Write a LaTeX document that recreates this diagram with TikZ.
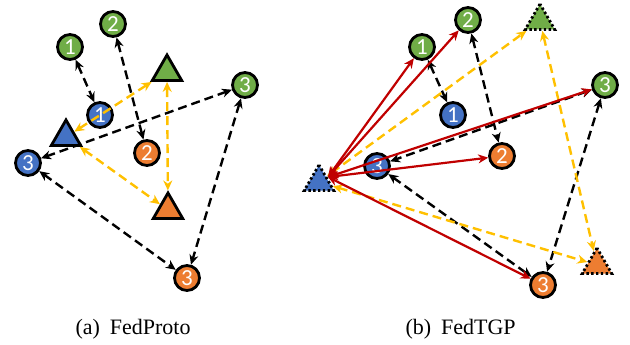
\documentclass[tikz,border=0pt]{standalone}
\usepackage{fontspec}
\setmainfont{Liberation Serif}
\newfontfamily\numfont{Carlito}
\usetikzlibrary{arrows.meta,shapes.geometric}
\definecolor{cgreen}{HTML}{70AD47}
\definecolor{cblue}{HTML}{4472C4}
\definecolor{corange}{HTML}{ED7D31}
\definecolor{cyellow}{HTML}{FFC000}
\definecolor{cred}{HTML}{C00000}
\begin{document}
\begin{tikzpicture}[x=1pt,y=-1pt,
  pnt/.style={circle,draw=black,line width=2.8pt,minimum size=25pt,inner sep=0pt,text=white,font=\numfont\fontsize{23}{23}\selectfont},
  gc/.style={pnt,fill=cgreen},
  bc/.style={pnt,fill=cblue},
  oc/.style={pnt,fill=corange},
  tribox/.style={regular polygon,regular polygon sides=3,draw=black,line width=2.8pt,minimum size=34pt,inner sep=0pt},
  dtribox/.style={tribox,dash pattern=on 2.4pt off 2.4pt},
  twotips/.style={{Stealth[length=10pt,width=9pt]}-{Stealth[length=10pt,width=9pt]}},
  blk/.style={twotips,draw=black,line width=2.4pt,dash pattern=on 9pt off 5pt},
  ylw/.style={twotips,draw=cyellow,line width=2.4pt,dash pattern=on 9pt off 5pt},
  rd/.style={twotips,draw=cred,line width=2.2pt},
  captxt/.style={anchor=base west,font=\fontsize{22}{24}\selectfont}
]
\useasboundingbox (0,0) rectangle (630,345);
% ---------- (a) FedProto ----------
\node[gc] (g1L) at (70,47) {1};
\node[gc] (g2L) at (113,24) {2};
\node[gc] (g3L) at (245,85) {3};
\node[bc] (b1L) at (100,115) {1};
\node[bc] (b3L) at (28,163) {3};
\node[oc] (o2L) at (147,153) {2};
\node[oc] (o3L) at (187,278) {3};
\node[tribox,fill=cgreen] (gtL) at (167,72) {};
\node[tribox,fill=cblue] (btL) at (66,137) {};
\node[tribox,fill=corange] (otL) at (168,210) {};
\draw[blk] (g1L) -- (b1L);
\draw[blk] (g2L) -- (o2L);
\draw[blk] (g3L) -- (b3L);
\draw[blk] (b3L) -- (o3L);
\draw[blk] (g3L) -- (o3L);
\draw[ylw] (btL) -- (gtL);
\draw[ylw] (gtL) -- (otL);
\draw[ylw] (btL) -- (otL);
% ---------- (b) FedTGP ----------
\node[gc] (g1R) at (422,47) {1};
\node[gc] (g2R) at (468,20) {2};
\node[gc] (g3R) at (605,85) {3};
\node[bc] (b1R) at (453,115) {1};
\node[bc] (b3R) at (377,166) {3};
\node[oc] (o2R) at (502,156) {2};
\node[oc] (o3R) at (543,285) {3};
\node[dtribox,fill=cgreen] (gtR) at (540,21) {};
\node[dtribox,fill=cblue] (btR) at (319,182) {};
\node[dtribox,fill=corange] (otR) at (597,265) {};
\coordinate (hub) at (328,177);
\draw[blk] (g1R) -- (b1R);
\draw[blk] (g2R) -- (o2R);
\draw[blk] (g3R) -- (b3R);
\draw[blk] (b3R) -- (o3R);
\draw[blk] (g3R) -- (o3R);
\draw[ylw] (btR) -- (gtR);
\draw[ylw] (gtR) -- (otR);
\draw[ylw] (btR) -- (otR);
\draw[rd] (hub) -- (g1R);
\draw[rd] (hub) -- (g2R);
\draw[rd] (hub) -- (g3R);
\draw[rd] (hub) -- (o2R);
\draw[rd] (hub) -- (o3R);
% ---------- captions ----------
\node[captxt] (capa) at (72,334) {(a)\hspace{0.45em}FedProto};
\node[captxt] (capb) at (402,334) {(b)\hspace{0.45em}FedTGP};
\end{tikzpicture}
\end{document}
